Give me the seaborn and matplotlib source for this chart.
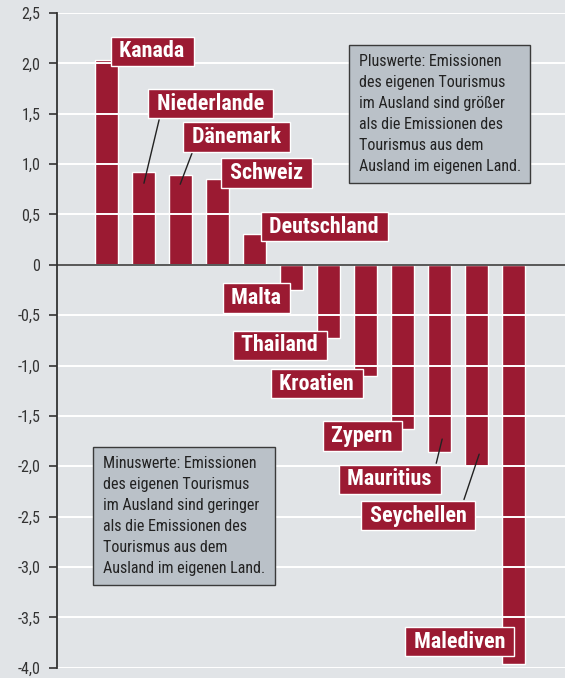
import matplotlib
matplotlib.use("Agg")
import matplotlib.pyplot as plt
import seaborn as sns
import pandas as pd

# Tourism emission balance per country
countries = ["Kanada", "Niederlande", "Dänemark", "Schweiz", "Deutschland", "Malta",
             "Thailand", "Kroatien", "Zypern", "Mauritius", "Seychellen", "Malediven"]
values = [2.03, 0.92, 0.89, 0.85, 0.31, -0.25, -0.73, -1.10, -1.63, -1.86, -2.00, -3.96]
ytick_values = [2.5, 2.0, 1.5, 1.0, 0.5, 0.0, -0.5, -1.0, -1.5, -2.0, -2.5, -3.0, -3.5, -4.0]
ytick_labels = ["2,5", "2,0", "1,5", "1,0", "0,5", "0", "-0,5", "-1,0", "-1,5", "-2,0",
                "-2,5", "-3,0", "-3,5", "-4,0"]
note_plus = ("Pluswerte: Emissionen\ndes eigenen Tourismus\nim Ausland sind größer\n"
             "als die Emissionen des\nTourismus aus dem\nAusland im eigenen Land.")
note_minus = ("Minuswerte: Emissionen\ndes eigenen Tourismus\nim Ausland sind geringer\n"
              "als die Emissionen des\nTourismus aus dem\nAusland im eigenen Land.")

# Label placement (data coordinates) and optional leader lines
label_pos = {
    "Kanada": (1.23, 2.12), "Niederlande": (2.81, 1.60), "Dänemark": (3.51, 1.27),
    "Schweiz": (4.32, 0.91), "Deutschland": (5.88, 0.38), "Malta": (4.05, -0.33),
    "Thailand": (4.68, -0.80), "Kroatien": (5.68, -1.18), "Zypern": (6.91, -1.70),
    "Mauritius": (7.65, -2.13), "Seychellen": (8.42, -2.49), "Malediven": (9.54, -3.74),
}
leaders = {
    "Niederlande": ((1.42, 1.44), (1.01, 0.81)),
    "Dänemark": ((2.31, 1.11), (1.99, 0.80)),
    "Mauritius": ((8.91, -1.97), (9.07, -1.73)),
    "Seychellen": ((9.66, -2.33), (10.07, -1.88)),
}

BG = "#e1e4e7"
BAR = "#9b1a32"
INK = "#333333"

sns.set_theme(style="white")
plt.rcParams["font.family"] = ["Roboto Condensed", "DejaVu Sans"]

fig = plt.figure(figsize=(5.65, 6.78), dpi=100, facecolor=BG)
ax = fig.add_axes([57 / 565, 10.3 / 678, 508 / 565, 654.7 / 678])
ax.set_facecolor(BG)

df = pd.DataFrame({"Land": countries, "Wert": values})
sns.barplot(data=df, x="Land", y="Wert", order=countries, color=BAR,
            saturation=1, width=0.62, ax=ax, zorder=1)

ax.set_xlim(-1.34, 12.39)
ax.set_ylim(-4.0, 2.5)
ax.set_xlabel("")
ax.set_ylabel("")
ax.set_xticks([])
ax.set_yticks(ytick_values)
ax.set_yticklabels(ytick_labels)
ax.tick_params(axis="y", direction="out", length=6, width=1.2, color=INK,
               labelsize=11.5, labelcolor=INK, pad=6, left=True)

# white grid drawn over the bars
for v in ytick_values:
    ax.axhline(v, color="white", lw=1.4, zorder=2)
ax.axhline(0, color="#4a4a4a", lw=1.3, zorder=2.2)

for side in ["top", "right", "bottom"]:
    ax.spines[side].set_visible(False)
ax.spines["left"].set_color(INK)
ax.spines["left"].set_linewidth(1.3)
ax.spines["left"].set_zorder(3)

for (x0, y0), (x1, y1) in leaders.values():
    ax.plot([x0, x1], [y0, y1], color="#222222", lw=1.0, zorder=2.5)

for name, (lx, ly) in label_pos.items():
    ax.text(lx, ly, f" {name} ", ha="center", va="center", color="white",
            fontsize=15.8, fontweight="bold", zorder=4,
            bbox=dict(boxstyle="square,pad=0.17", fc=BAR, ec="white", lw=1.0))

note_box = dict(boxstyle="square,pad=0.6", fc="#bac1c8", ec="#3a3a3a", lw=1.0)
ax.text(0.594, 0.937, note_plus, transform=ax.transAxes, ha="left", va="top",
        fontsize=11.5, color="#222222", linespacing=1.49, zorder=4, bbox=note_box)
ax.text(0.0906, 0.323, note_minus, transform=ax.transAxes, ha="left", va="top",
        fontsize=11.5, color="#222222", linespacing=1.49, zorder=4, bbox=note_box)

fig.savefig("out.png", dpi=100, facecolor=BG)
